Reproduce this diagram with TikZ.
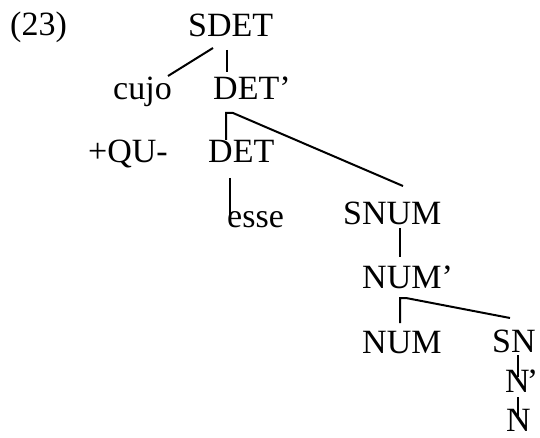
\documentclass[tikz,border=0pt]{standalone}
\usepackage{fontspec}
\setmainfont{Liberation Serif}

\begin{document}
\begin{tikzpicture}[x=1pt,y=-1pt,
	every node/.style={anchor=base west,inner sep=0pt,font=\fontsize{34}{40}\selectfont},
	branch/.style={line width=2pt}]
	\useasboundingbox (0,0) rectangle (540,438);
	\node (ex) at (10,36) {(23)};
	\node (sdet) at (188,37) {SDET};
	\node (cujo) at (113,100) {cujo};
	\node (detp) at (213,100) {DET'};
	\node (qu) at (88,163) {+QU-};
	\node (det) at (208,163) {DET};
	\node (esse) at (227,227) {esse};
	\node (snum) at (343,225) {SNUM};
	\node (nump) at (362,288) {NUM'};
	\node (num) at (362,353) {NUM};
	\node (sn) at (492,352) {SN};
	\node (np) at (505,392) {N\kern-3pt'};
	\node (n) at (506,431) {N};
	\draw[branch] ([shift={(25,11)}]sdet.base west) -- ([shift={(55,-24)}]cujo.base west);
	\draw[branch] ([shift={(39,13)}]sdet.base west) -- ([shift={(14,-28)}]detp.base west);
	\draw[branch] ([shift={(18,-23)}]det.base west) -- ([shift={(13,13)}]detp.base west)
		-- ++(7,0) -- ([shift={(60,-39)}]snum.base west);
	\draw[branch] ([shift={(22,15)}]det.base west) -- ([shift={(3,-10)}]esse.base west);
	\draw[branch] ([shift={(57,3)}]snum.base west) -- ([shift={(38,-31)}]nump.base west);
	\draw[branch] ([shift={(38,-30)}]num.base west) -- ([shift={(38,10)}]nump.base west)
		-- ++(6,0) -- ([shift={(18,-34)}]sn.base west);
	\draw[branch] ([shift={(26,3)}]sn.base west) -- ([shift={(13,-15)}]np.base west);
	\draw[branch] ([shift={(13,5)}]np.base west) -- ([shift={(12,-15)}]n.base west);
\end{tikzpicture}
\end{document}
